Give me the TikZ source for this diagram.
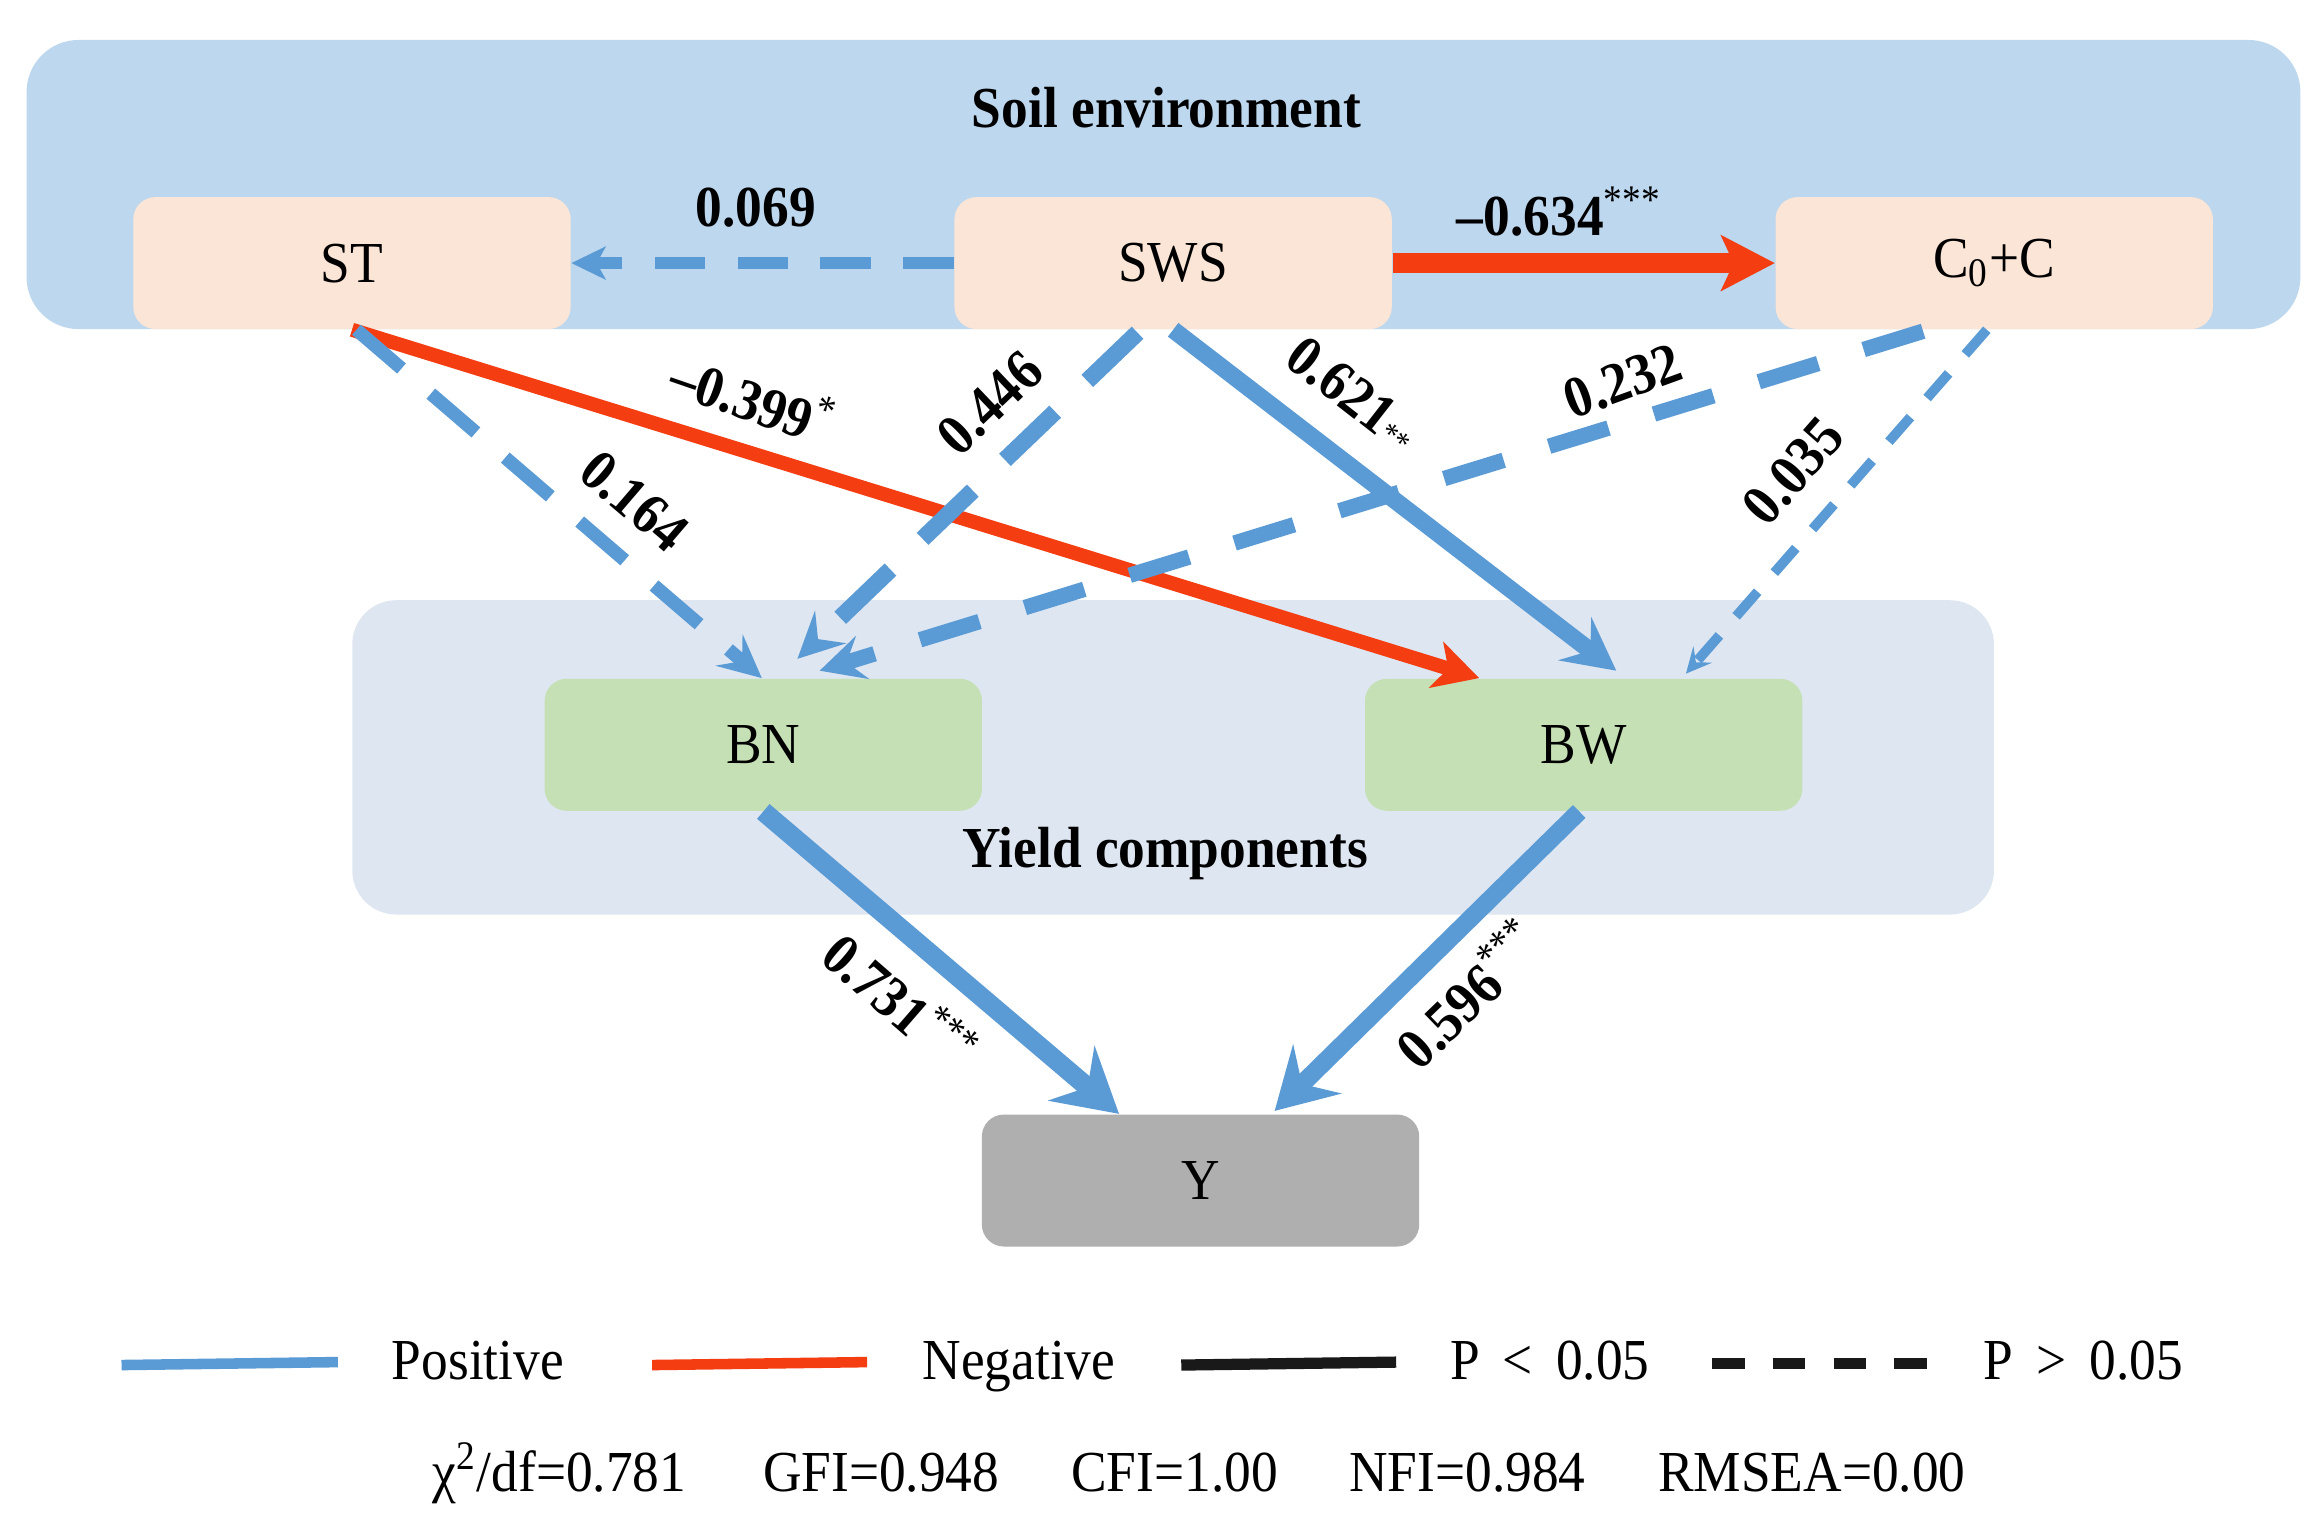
\documentclass[tikz,border=0pt]{standalone}
\usepackage{fontspec}
\setmainfont[FakeStretch=0.92]{Liberation Serif}
\usetikzlibrary{arrows.meta,calc}
\definecolor{pblue}{HTML}{5B9BD5}
\definecolor{nred}{HTML}{F43E12}
\definecolor{soilbg}{HTML}{BDD7EE}
\definecolor{yieldbg}{HTML}{DEE6F1}
\definecolor{peach}{HTML}{FBE5D6}
\definecolor{leaf}{HTML}{C5E0B4}
\definecolor{ygrey}{HTML}{AFAFAF}
\begin{document}
\begin{tikzpicture}[x=0.01482cm,y=-0.01482cm,
  every node/.style={font=\fontsize{16.5}{19}\selectfont},
  var/.style={rounded corners=0.22cm, minimum width=4.372cm, minimum height=1.319cm, inner sep=0pt},
  soilvar/.style={var, fill=peach},
  yieldvar/.style={var, fill=leaf},
  outvar/.style={var, fill=ygrey},
  coef/.style={font=\fontsize{16.5}{19}\selectfont\bfseries, inner sep=1pt},
  posline/.style={draw=pblue, line cap=butt},
  negline/.style={draw=nred, line cap=butt},
  lgtext/.style={anchor=base west, inner sep=0pt},
  stat/.style={anchor=base, inner sep=0pt}
]
\useasboundingbox (0,0) rectangle (1568,1039);
\fill[white] (0,0) rectangle (1568,1039);

% group backgrounds
\node (soil) [fill=soilbg, rounded corners=0.52cm, minimum width=22.73cm, minimum height=2.89cm, inner sep=0pt] at (785,124.5) {};
\node (yield) [fill=yieldbg, rounded corners=0.44cm, minimum width=16.41cm, minimum height=3.142cm, inner sep=0pt] at (791.5,511) {};
\node (soiltitle) [font=\fontsize{16.5}{19}\selectfont\bfseries, anchor=base, inner sep=0pt] at (787,86) {Soil environment};
\node (yieldtitle) [font=\fontsize{16.5}{19}\selectfont\bfseries, anchor=base, inner sep=0pt] at (786,585) {Yield components};

% variables
\node (ST)  [soilvar] at (237.5,177.5) {ST};
\node (SWS) [soilvar] at (791.5,177.5) {SWS};
\node (C)   [soilvar] at (1345.5,177.5) {C\textsubscript{0}+C};
\node (BN)  [yieldvar] at (515,502.5) {BN};
\node (BW)  [yieldvar] at (1068.5,502.5) {BW};
\node (Y)   [outvar] at (810,796.5) {Y};

% connectors
\draw[negline, line width=5.6pt, -{Stealth[length=15.2pt, width=15.6pt, inset=3.5pt]}] (SWS.east) -- (C.west);
\draw[posline, line width=3.3pt, dash pattern=on 14.3pt off 9.3pt, -{Stealth[length=9.7pt, width=9.3pt, inset=2.5pt]}] (SWS.west) -- (ST.east);
\draw[negline, line width=4pt, -{Stealth[length=12.7pt, width=13.5pt, inset=3.5pt]}] (ST.south) -- ($(BW.north)+(-70.5,0)$);
\draw[posline, line width=3.8pt, dash pattern=on 16.9pt off 11pt, -{Stealth[length=12.2pt, width=11.7pt, inset=4.8pt]}] ($(ST.south)+(3,0)$) -- ($(BN.north)+(-1,0)$);
\draw[posline, line width=4.8pt, dash pattern=on 19.8pt off 12.65pt, -{Stealth[length=13pt, width=12.7pt, inset=4.9pt]}] ($(SWS.south)+(-24,2)$) -- ($(BN.north)+(23,-13)$);
\draw[posline, line width=4.9pt, -{Stealth[length=14.8pt, width=15.3pt, inset=5.5pt]}] (SWS.south) -- ($(BW.north)+(22,-5)$);
\draw[posline, line width=4.4pt, dash pattern=on 17.7pt off 13.5pt, -{Stealth[length=12.7pt, width=12.7pt, inset=4.7pt]}] ($(C.south)+(-48,1)$) -- ($(BN.north)+(38,-5)$);
\draw[posline, line width=2.8pt, dash pattern=on 9.3pt off 7.2pt, -{Stealth[length=7.2pt, width=7pt, inset=2.9pt]}] ($(C.south)+(-5,0)$) -- ($(BW.north)+(69,-3)$);
\draw[posline, line width=5.5pt, -{Stealth[length=17.7pt, width=20.2pt, inset=6pt]}] (BN.south) -- ($(Y.north)+(-55,0)$);
\draw[posline, line width=5.1pt, -{Stealth[length=16.9pt, width=19.4pt, inset=6pt]}] ($(BW.south)+(-3,0)$) -- ($(Y.north)+(50,-2)$);

% coefficients
\node (l069) [coef] at (510,140) {0.069};
\node (l634) [coef] at (1052,143) {--0.634\textsuperscript{\mdseries ***}};
\node (l399) [coef, rotate=-19] at (508,268) {--0.399\textsuperscript{\mdseries *}};
\node (l164) [coef, rotate=-40.6] at (428,338) {0.164};
\node (l446) [coef, rotate=43.6] at (668,272) {0.446};
\node (l621) [coef, rotate=-38] at (913,266) {0.621{\mdseries\small **}};
\node (l232) [coef, rotate=20] at (1095,257) {0.232};
\node (l035) [coef, rotate=48.7] at (1210,318) {0.035};
\node (l731) [coef, rotate=-41] at (608,675) {0.731\textsuperscript{\mdseries ***}};
\node (l596) [coef, rotate=44] at (990,670) {0.596\textsuperscript{\mdseries ***}};

% legend
\coordinate (lgA1) at (82,921); \coordinate (lgA2) at (228,919);
\coordinate (lgB1) at (440,921); \coordinate (lgB2) at (585,919);
\coordinate (lgC1) at (797,921); \coordinate (lgC2) at (942,919);
\coordinate (lgD1) at (1155,920); \coordinate (lgD2) at (1300,920);
\draw[pblue, line width=3pt] (lgA1) -- (lgA2);
\draw[nred, line width=3pt] (lgB1) -- (lgB2);
\draw[black!90, line width=3.2pt] (lgC1) -- (lgC2);
\draw[black!90, line width=3pt, dash pattern=on 9.3pt off 8pt] (lgD1) -- (lgD2);
\node (tpos) [lgtext] at (264,931) {Positive};
\node (tneg) [lgtext] at (622,931) {Negative};
\node (tlt)  [lgtext] at (978,931) {P\,\ <\ \,0.05};
\node (tgt)  [lgtext] at (1338,931) {P\,\ >\ \,0.05};

% fit statistics
\node (s1) [stat] at (377.5,1006) {χ\textsuperscript{2}/df=0.781};
\node (s2) [stat] at (594.5,1006) {GFI=0.948};
\node (s3) [stat] at (792.5,1006) {CFI=1.00};
\node (s4) [stat] at (990,1006) {NFI=0.984};
\node (s5) [stat] at (1222.5,1006) {RMSEA=0.00};
\end{tikzpicture}
\end{document}
